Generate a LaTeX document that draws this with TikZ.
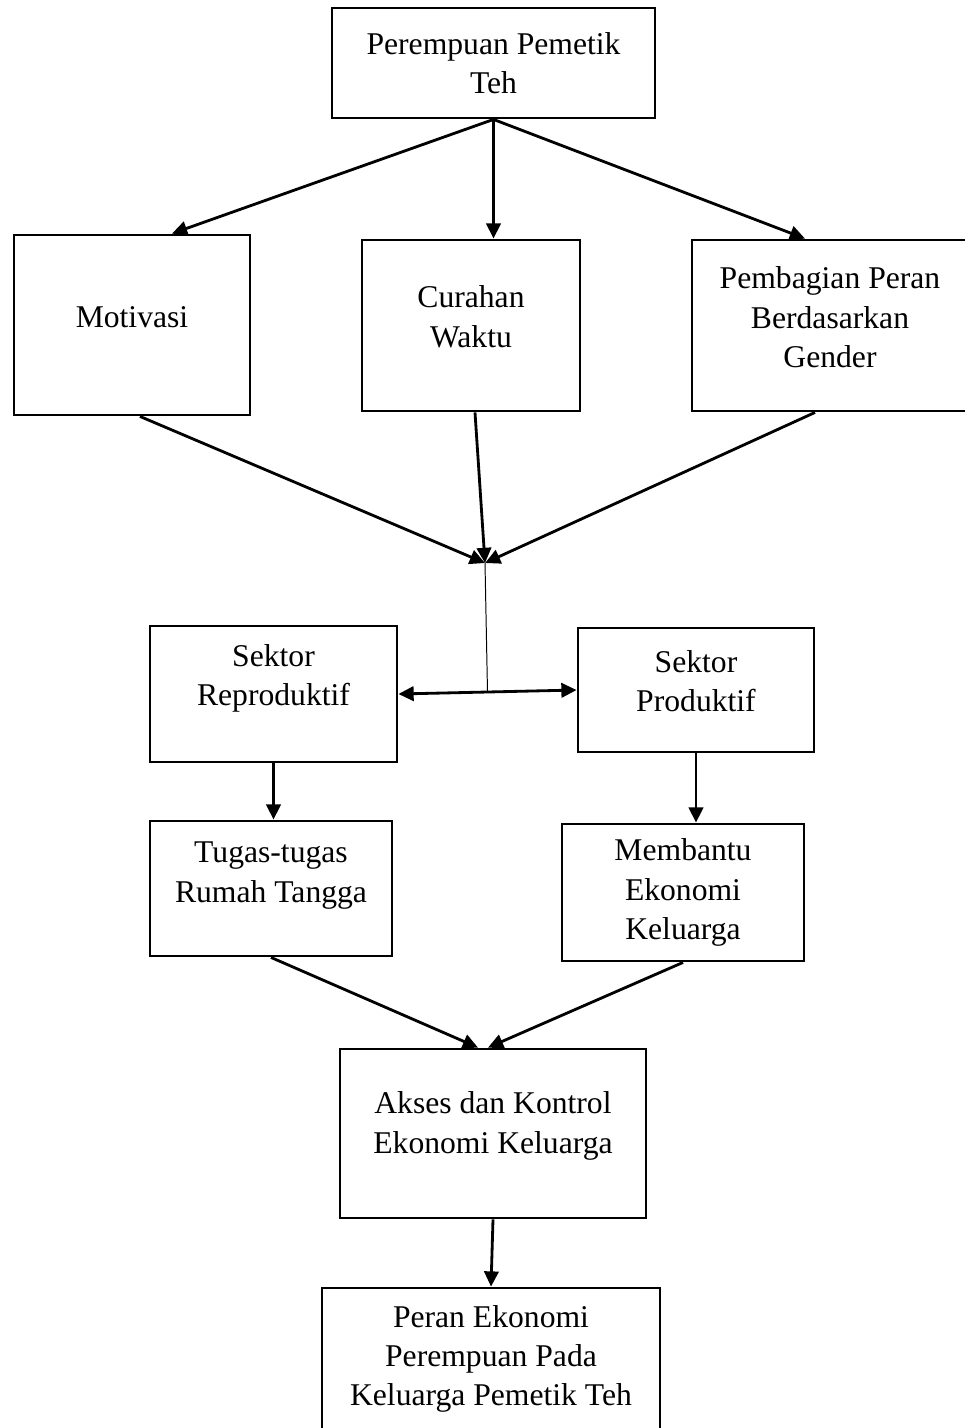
\documentclass[tikz,border=0pt]{standalone}
\usepackage{fontspec}
\setmainfont{Liberation Serif}
\usepackage{tikz}
\usetikzlibrary{arrows.meta,positioning,calc}

\begin{document}
\begin{tikzpicture}[x=0.025cm, y=-0.025cm, >={Triangle[length=0.38cm,width=0.36cm]}, font=\fontsize{22.5}{28}\selectfont]
\tikzstyle{box}=[draw, line width=2pt, align=center, inner sep=4pt]
\tikzstyle{link}=[->, line width=2pt]
\useasboundingbox (0,0) rectangle (965,1428);

\node[box, minimum width=8.075cm, minimum height=2.75cm] (top) at (493.5,63) {Perempuan Pemetik\\Teh};

\node[box, minimum width=5.9cm, minimum height=4.5cm, text depth=12pt] (mot) at (132,325) {Motivasi};
\node[box, minimum width=5.45cm, minimum height=4.275cm, text depth=12.8pt] (cur) at (471,325.5) {Curahan\\Waktu};
\node[box, minimum width=6.9cm, minimum height=4.275cm, text depth=12pt] (gen) at (830,325.5) {Pembagian Peran\\Berdasarkan\\Gender};

\coordinate (meet) at (485,563);

\node[box, minimum width=6.175cm, minimum height=3.4cm, text depth=27pt] (rep) at (273.5,694) {Sektor\\Reproduktif};
\node[box, minimum width=5.9cm, minimum height=3.1cm, text depth=12.8pt] (pro) at (696,690) {Sektor\\Produktif};

\node[box, minimum width=6.05cm, minimum height=3.375cm, text depth=23.4pt] (tug) at (271,888.5) {Tugas-tugas\\Rumah Tangga};
\node[box, minimum width=6.05cm, minimum height=3.425cm] (mem) at (683,892.5) {Membantu\\Ekonomi\\Keluarga};

\node[box, minimum width=7.65cm, minimum height=4.225cm, text depth=15.6pt] (aks) at (493,1133.5) {Akses dan Kontrol\\Ekonomi Keluarga};
\node[box, minimum width=8.45cm, minimum height=3.55cm] (per) at (491,1359) {Peran Ekonomi\\Perempuan Pada\\Keluarga Pemetik Teh};

\draw[link] (top.south) -- ([xshift=1cm]mot.north);
\draw[link] (top.south) -- (top.south |- cur.north);
\draw[link] (top.south) -- ([xshift=-0.625cm]gen.north);

\draw[link] ([xshift=0.2cm]mot.south) -- (meet);
\draw[link] ([xshift=0.1cm]cur.south) -- (meet);
\draw[link] ([xshift=-0.375cm]gen.south) -- (meet);

\draw[<->, line width=2pt] (rep.east) -- (pro.west);
\draw[line width=0.7pt] (meet) -- ($(rep.east)!0.5!(pro.west)$);

\draw[link] (rep.south) -- (rep.south |- tug.north);
\draw[link] (pro.south) -- (pro.south |- mem.north);

\draw[link] (tug.south) -- ([xshift=-0.375cm]aks.north);
\draw[link] (mem.south) -- ([xshift=-0.125cm]aks.north);
\draw[link] (aks.south) -- (per.north);
\end{tikzpicture}
\end{document}
